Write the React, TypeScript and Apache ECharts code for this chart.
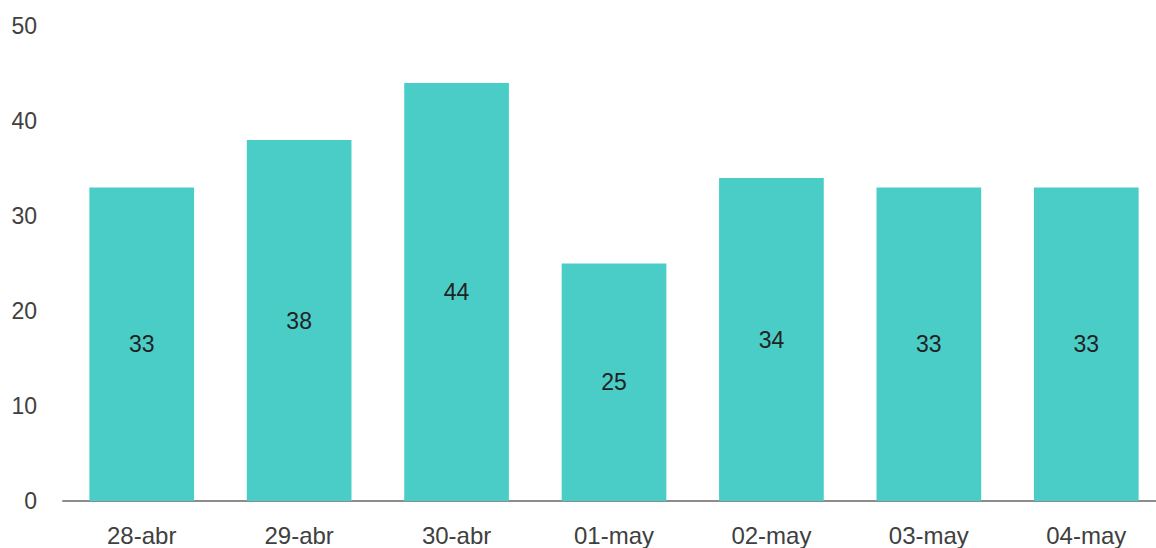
import React, { useEffect, useRef } from "react";
import * as echarts from "echarts";

const categories = ["28-abr", "29-abr", "30-abr", "01-may", "02-may", "03-may", "04-may"];
const values = [33, 38, 44, 25, 34, 33, 33];
const yMin = 0;
const yMax = 50;
const yInterval = 10;

export default function App() {
  const ref = useRef<HTMLDivElement>(null);
  useEffect(() => {
    if (!ref.current) return;
    const chart = echarts.init(ref.current, undefined, { renderer: "svg" });
    const font = "Arial, 'Liberation Sans', sans-serif";
    chart.setOption({
      animation: false,
      grid: { left: 63, right: 0, top: 26, bottom: 47, containLabel: false },
      xAxis: {
        type: "category",
        data: categories,
        axisLine: { show: true, lineStyle: { color: "#8c8c8c", width: 2 } },
        axisTick: { show: false },
        axisLabel: { color: "#404040", fontSize: 24, fontFamily: font, margin: 22 },
      },
      yAxis: {
        type: "value",
        min: yMin,
        max: yMax,
        interval: yInterval,
        axisLine: { show: false },
        axisTick: { show: false },
        splitLine: { show: false },
        axisLabel: { color: "#404040", fontSize: 23, fontFamily: font, margin: 26 },
      },
      series: [
        {
          type: "bar",
          data: values,
          barCategoryGap: "33.5%",
          itemStyle: { color: "#4BCDC7" },
          label: {
            show: true,
            position: "inside",
            color: "#222",
            fontSize: 23,
            fontFamily: font,
          },
        },
      ],
    });
    return () => chart.dispose();
  }, []);
  return (
    <div style={{ position: "absolute", left: 0, top: 0, width: 1156, height: 548, overflow: "hidden" }}>
      <div ref={ref} style={{ width: 1165, height: 548 }} />
    </div>
  );
}
